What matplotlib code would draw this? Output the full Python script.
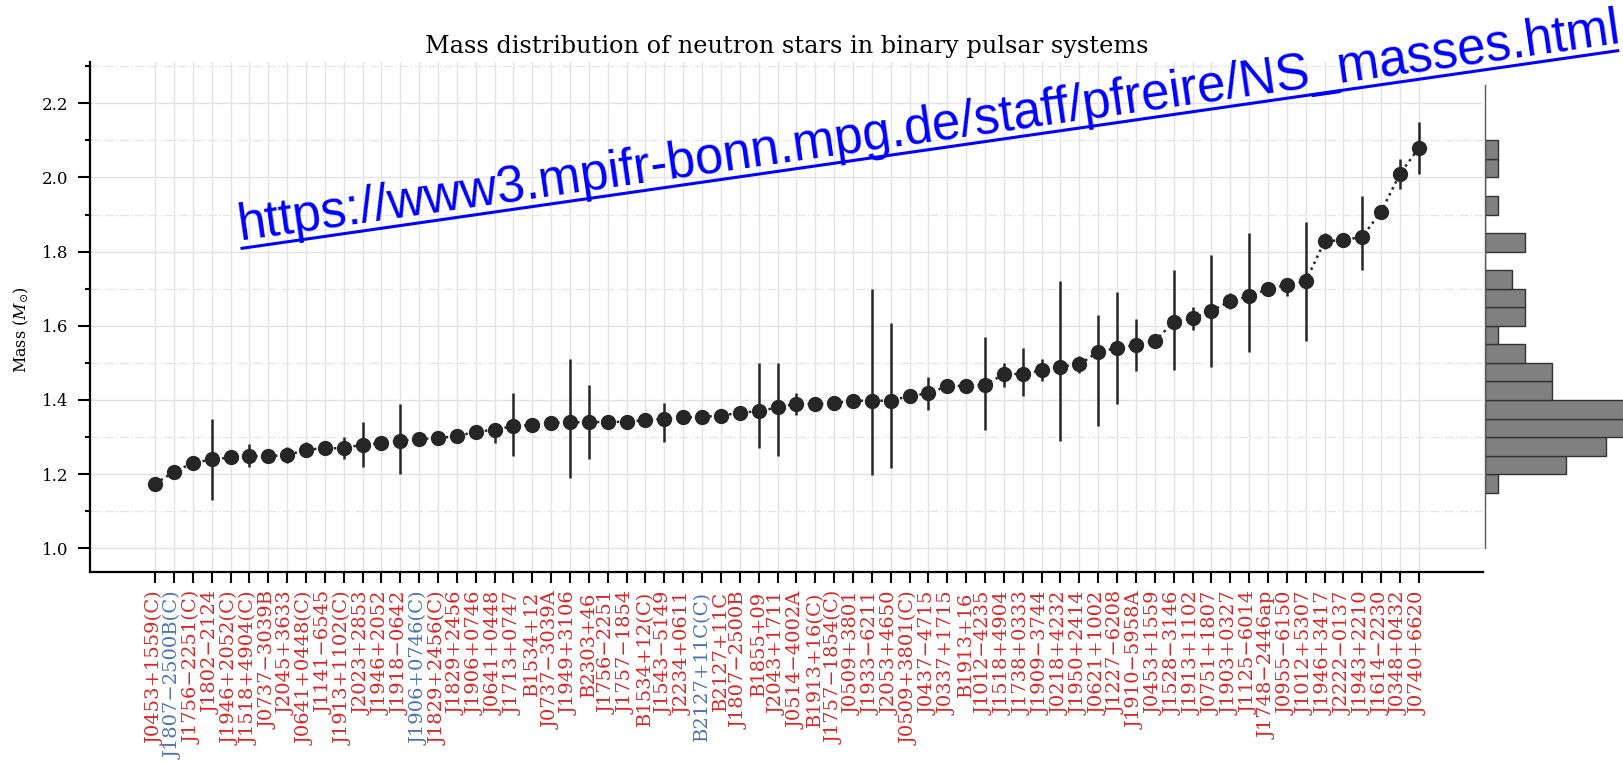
import numpy as np
import matplotlib
matplotlib.use("Agg")
import matplotlib.pyplot as plt
from matplotlib.lines import Line2D
from matplotlib.ticker import MultipleLocator

# Pulsar names (companion masses marked with (C)), sorted by mass
names = [
    "J0453+1559(C)", "J1807\u22122500B(C)", "J1756\u22122251(C)", "J1802\u22122124",
    "J1946+2052(C)", "J1518+4904(C)", "J0737\u22123039B", "J2045+3633",
    "J0641+0448(C)", "J1141\u22126545", "J1913+1102(C)", "J2023+2853",
    "J1946+2052", "J1918\u22120642", "J1906+0746(C)", "J1829+2456(C)",
    "J1829+2456", "J1906+0746", "J0641+0448", "J1713+0747",
    "B1534+12", "J0737\u22123039A", "J1949+3106", "B2303+46",
    "J1756\u22122251", "J1757\u22121854", "B1534+12(C)", "J1543\u22125149",
    "J2234+0611", "B2127+11C(C)", "B2127+11C", "J1807\u22122500B",
    "B1855+09", "J2043+1711", "J0514\u22124002A", "B1913+16(C)",
    "J1757\u22121854(C)", "J0509+3801", "J1933\u22126211", "J2053+4650",
    "J0509+3801(C)", "J0437\u22124715", "J0337+1715", "B1913+16",
    "J1012\u22124235", "J1518+4904", "J1738+0333", "J1909\u22123744",
    "J0218+4232", "J1950+2414", "J0621+1002", "J1227\u22126208",
    "J1910\u22125958A", "J0453+1559", "J1528\u22123146", "J1913+1102",
    "J0751+1807", "J1903+0327", "J1125\u22126014", "J1748\u22122446ap",
    "J0955\u22126150", "J1012+5307", "J1946+3417", "J2222\u22120137",
    "J1943+2210", "J1614\u22122230", "J0348+0432", "J0740+6620",
]

# masses in solar masses
masses = [
    1.174, 1.2064, 1.230, 1.24, 1.245, 1.248, 1.2489, 1.251,
    1.266, 1.27, 1.27, 1.28, 1.283, 1.29, 1.295, 1.297,
    1.303, 1.314, 1.32, 1.33, 1.333, 1.3381, 1.34, 1.34,
    1.341, 1.3412, 1.3455, 1.349, 1.353, 1.354, 1.358, 1.3655,
    1.37, 1.38, 1.39, 1.389, 1.3917, 1.398, 1.398, 1.398,
    1.411, 1.418, 1.4378, 1.438, 1.44, 1.47, 1.47, 1.48,
    1.49, 1.496, 1.53, 1.54, 1.548, 1.559, 1.61, 1.62,
    1.64, 1.667, 1.68, 1.699, 1.71, 1.72, 1.828, 1.831,
    1.84, 1.908, 2.01, 2.08,
]

err_hi = [
    0.004, 0.002, 0.007, 0.11, 0.005, 0.033, 0.001, 0.021,
    0.02, 0.01, 0.03, 0.06, 0.005, 0.10, 0.011, 0.007,
    0.007, 0.015, 0.016, 0.09, 0.001, 0.001, 0.17, 0.10,
    0.007, 0.001, 0.001, 0.043, 0.014, 0.01, 0.01, 0.002,
    0.13, 0.12, 0.03, 0.001, 0.001, 0.005, 0.30, 0.21,
    0.005, 0.044, 0.0013, 0.001, 0.13, 0.03, 0.07, 0.03,
    0.23, 0.023, 0.10, 0.15, 0.07, 0.005, 0.14, 0.03,
    0.15, 0.021, 0.17, 0.01, 0.02, 0.16, 0.022, 0.010,
    0.11, 0.016, 0.04, 0.07,
]

err_lo = [
    0.004, 0.002, 0.007, 0.11, 0.005, 0.029, 0.001, 0.021,
    0.02, 0.01, 0.03, 0.06, 0.005, 0.09, 0.011, 0.007,
    0.007, 0.015, 0.036, 0.08, 0.001, 0.001, 0.15, 0.10,
    0.007, 0.001, 0.001, 0.061, 0.017, 0.01, 0.01, 0.002,
    0.10, 0.13, 0.03, 0.001, 0.001, 0.005, 0.20, 0.18,
    0.005, 0.044, 0.0013, 0.001, 0.12, 0.035, 0.06, 0.03,
    0.20, 0.023, 0.20, 0.15, 0.07, 0.005, 0.13, 0.03,
    0.15, 0.021, 0.15, 0.01, 0.03, 0.16, 0.022, 0.010,
    0.09, 0.016, 0.04, 0.07,
]

# labels drawn in blue instead of red
blue_names = ["J1807\u22122500B(C)", "J1906+0746(C)", "B2127+11C(C)"]

hist_bins = np.arange(1.15, 2.11, 0.05)

RED = '#d62728'
BLUE = '#4c72b0'
DARK = '#262626'

plt.rcParams['font.family'] = 'serif'
plt.rcParams['font.serif'] = ['DejaVu Serif']
plt.rcParams['mathtext.fontset'] = 'dejavuserif'

fig = plt.figure(figsize=(16.24, 7.62), dpi=100)
ax = fig.add_axes([0.0554, 0.2497, 0.9132 - 0.0554, 0.919 - 0.2497])

x = np.arange(len(names))
ax.errorbar(x, masses, yerr=[err_lo, err_hi], fmt='o:', color=DARK,
            ms=10, lw=1.8, elinewidth=1.8, capsize=0, zorder=3)

ax.set_xlim(-3.45, len(names) - 1 + 3.4)
ax.set_ylim(0.937, 2.312)
ax.set_xticks(x)
ax.set_xticklabels(names, rotation=90, fontsize=14)
for lab in ax.get_xticklabels():
    lab.set_color(BLUE if lab.get_text() in blue_names else RED)

ax.yaxis.set_major_locator(MultipleLocator(0.2))
ax.yaxis.set_minor_locator(MultipleLocator(0.1))
ax.tick_params(axis='y', which='major', length=8.5, width=1.5, labelsize=12, pad=7, colors='black')
ax.tick_params(axis='y', which='minor', length=3.5, width=1.5)
ax.tick_params(axis='x', which='major', length=8, width=1.5, pad=6)

for s in ['top', 'right']:
    ax.spines[s].set_visible(False)
for s in ['left', 'bottom']:
    ax.spines[s].set_linewidth(1.6)
    ax.spines[s].set_color('black')

ax.grid(True, which='major', axis='both', color='#e3e3e3', lw=1)
ax.grid(True, which='minor', axis='y', color='#e6e6e6', lw=1, ls='-.')
ax.set_axisbelow(True)

ax.set_ylabel(r'Mass ($M_{\odot}$)', fontsize=11.5, labelpad=8)
ax.yaxis.label.set_y(0.475)
ax.set_title('Mass distribution of neutron stars in binary pulsar systems', fontsize=17.3)

# marginal histogram of masses
axh = fig.add_axes([0.9144, 1 - 548.3 / 762, 1 - 0.9144, (548.3 - 84.8) / 762])
axh.hist(masses, bins=hist_bins, orientation='horizontal', color='0.5',
         edgecolor='0.2', lw=1)
axh.set_ylim(1.0, 2.25)
axh.set_xlim(0, 10.3)
axh.set_xticks([])
axh.set_yticks([])
for s in ['top', 'right', 'bottom']:
    axh.spines[s].set_visible(False)
axh.spines['left'].set_color('0.35')
axh.spines['left'].set_linewidth(1)

# source link written across the plot
url = "https://www3.mpifr-bonn.mpg.de/staff/pfreire/NS_masses.html"
fig.text(240 / 1624, 1 - 240 / 762, url, rotation=8.15, rotation_mode='anchor',
         ha='left', va='baseline', fontsize=36.5, color='blue', family='Liberation Sans')
fig.add_artist(Line2D([242 / 1624, 1617.7 / 1624], [1 - 248.3 / 762, 1 - 50.7 / 762],
                      transform=fig.transFigure, color='blue', lw=2.2))

fig.savefig('out.png', dpi=100)
